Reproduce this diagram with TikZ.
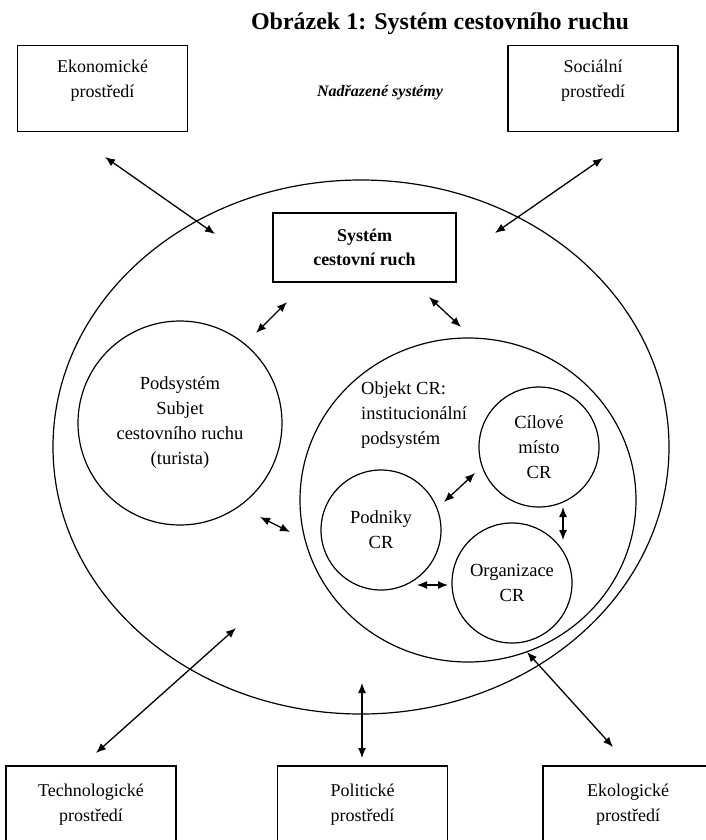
\documentclass[tikz,border=0pt]{standalone}
\usepackage{fontspec}
\setmainfont{Liberation Serif}
\usetikzlibrary{shapes.geometric,arrows.meta}
\begin{document}
\begin{tikzpicture}[x=1pt,y=-1pt,
  envbox/.style={draw,line width=1.4pt,minimum width=170pt,inner sep=0pt,align=center,
    font=\fontsize{18}{25}\selectfont},
  ring/.style={draw,circle,line width=1.2pt,minimum size=120pt,inner sep=0pt,align=center,
    font=\fontsize{18.5}{25}\selectfont},
  oval/.style={draw,ellipse,line width=1.2pt,inner sep=0pt},
  arr/.style={line width=1.3pt,{Latex[length=10pt,width=8pt]}-{Latex[length=10pt,width=8pt]}}
]
\useasboundingbox (0,0) rectangle (706,840);
\fill[white] (0,0) rectangle (706,840);
\clip (0,0) rectangle (706,840);

% title
\node[font=\fontsize{24}{28}\selectfont\bfseries] (title) at (440,24) {Obrázek 1: Systém cestovního ruchu};
\node[font=\fontsize{16}{20}\selectfont\bfseries\itshape] (nadr) at (380,93) {Nadřazené systémy};

% environment boxes
\node[envbox,minimum height=86pt,text depth=20pt] (ekon) at (102.5,88.5) {Ekonomické\\prostředí};
\node[envbox,minimum height=86pt,text depth=20pt] (soc) at (593,88.5) {Sociální\\prostředí};
\node[envbox,minimum height=78pt] (tech) at (91,805) {Technologické\\prostředí};
\node[envbox,minimum height=78pt] (pol) at (362.5,805) {Politické\\prostředí};
\node[envbox,minimum height=78pt] (eko) at (628,805) {Ekologické\\prostředí};

% big system ellipse
\node[oval,minimum width=616pt,minimum height=534pt] (big) at (361,447) {};

% system box
\node[draw,line width=1.4pt,minimum width=183pt,minimum height=69pt,inner sep=0pt,align=center,
  font=\fontsize{18}{24}\selectfont\bfseries] (sys) at (364.5,247.5) {Systém\\cestovní ruch};

% subject circle
\node[ring,minimum size=204pt] (sub) at (180,423) {Podsystém\\Subjet\\cestovního ruchu\\(turista)};

% object ellipse
\node[oval,minimum width=336pt,minimum height=324pt] (obj) at (468,500) {};
\node[anchor=west,inner sep=0pt,align=left,font=\fontsize{18.5}{25}\selectfont] (objtxt) at (361,415)
  {Objekt CR:\\institucionální\\podsystém};

% inner circles
\node[ring] (cil) at (539,447) {Cílové\\místo\\CR};
\node[ring] (pod) at (381,530) {Podniky\\CR};
\node[ring] (org) at (512,583) {Organizace\\CR};

% arrow end points
\coordinate (a1s) at (105,157); \coordinate (a1e) at (215,234);
\coordinate (a2s) at (603,158); \coordinate (a2e) at (495,233);
\coordinate (a3s) at (287,302); \coordinate (a3e) at (256,333);
\coordinate (a4s) at (429,297); \coordinate (a4e) at (461,327);
\coordinate (a5s) at (260,517); \coordinate (a5e) at (290,532);
\coordinate (a6s) at (444,502); \coordinate (a6e) at (475,473);
\coordinate (a7s) at (563,507); \coordinate (a7e) at (563,540);
\coordinate (a8s) at (417,585); \coordinate (a8e) at (448,585);
\coordinate (a9s) at (236,628); \coordinate (a9e) at (96,753);
\coordinate (a10s) at (362,683); \coordinate (a10e) at (362,758);
\coordinate (a11s) at (527,652); \coordinate (a11e) at (613,747);

\draw[arr] (a1s) -- (a1e);
\draw[arr] (a2s) -- (a2e);
\draw[arr] (a3s) -- (a3e);
\draw[arr] (a4s) -- (a4e);
\draw[arr] (a5s) -- (a5e);
\draw[arr] (a6s) -- (a6e);
\draw[arr] (a7s) -- (a7e);
\draw[arr] (a8s) -- (a8e);
\draw[arr] (a9s) -- (a9e);
\draw[arr] (a10s) -- (a10e);
\draw[arr] (a11s) -- (a11e);
\end{tikzpicture}
\end{document}
